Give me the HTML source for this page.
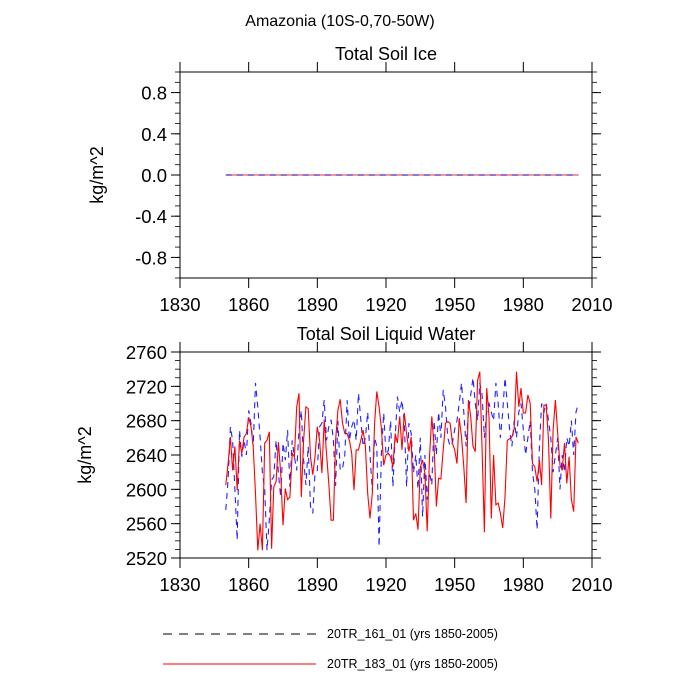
<!DOCTYPE html>
<html><head><meta charset="utf-8"><style>
body{margin:0;background:#fff;}
svg{display:block;font-family:"Liberation Sans",sans-serif;}
</style></head><body>
<svg id="chart" width="700" height="700" xmlns="http://www.w3.org/2000/svg">
<text x="340" y="26" font-size="16" text-anchor="middle">Amazonia (10S-0,70-50W)</text>
<g id="top"></g>
<g id="bot"></g>
<g>
<line x1="163" y1="634" x2="316" y2="634" stroke="#000" stroke-width="0.9" stroke-dasharray="9,7"/>
<text x="327" y="638" font-size="12.5">20TR_161_01 (yrs 1850-2005)</text>
<line x1="163" y1="664" x2="316" y2="664" stroke="#f00" stroke-width="0.9"/>
<text x="327" y="668" font-size="12.5">20TR_183_01 (yrs 1850-2005)</text>
</g>
</svg>
<script>
const years = [];
for (let y = 1850; y <= 2004; y++) years.push(y);
const blueVals = [2576,2611,2673,2657,2600,2541,2669,2638,2657,2640,
2692,2677,2650,2724,2696,2661,2619,2600,2529,2564,
2611,2615,2657,2619,2591,2654,2634,2669,2603,2657,
2638,2622,2669,2692,2634,2605,2650,2580,2572,2619,
2622,2673,2677,2704,2657,2673,2681,2657,2604,2680,
2622,2624,2640,2704,2657,2673,2681,2657,2712,2681,
2650,2660,2690,2640,2599,2660,2650,2533,2642,2689,
2640,2645,2680,2603,2660,2708,2690,2704,2677,2603,
2677,2665,2619,2640,2600,2660,2568,2640,2588,2620,
2605,2680,2640,2690,2660,2716,2696,2660,2650,2654,
2670,2680,2700,2724,2690,2650,2690,2710,2730,2700,
2680,2724,2710,2660,2690,2700,2690,2680,2724,2700,
2660,2690,2730,2700,2670,2650,2680,2660,2690,2700,
2670,2640,2660,2680,2620,2600,2553,2650,2700,2690,
2700,2680,2660,2620,2640,2660,2600,2640,2620,2660,
2650,2680,2640,2690,2700];
const redVals = [2605,2630,2661,2622,2650,2599,2657,2642,2661,2665,
2684,2673,2650,2595,2529,2560,2529,2654,2657,2667,
2531,2603,2609,2655,2619,2558,2601,2588,2591,2642,
2638,2696,2712,2591,2657,2696,2694,2638,2617,2638,
2673,2657,2619,2681,2642,2607,2564,2564,2657,2692,
2705,2677,2665,2665,2657,2642,2599,2646,2646,2657,
2669,2650,2595,2566,2595,2677,2714,2696,2671,2628,
2640,2642,2638,2626,2665,2654,2685,2646,2689,2665,
2644,2661,2564,2572,2553,2626,2634,2619,2551,2638,
2685,2650,2580,2613,2612,2646,2677,2679,2677,2654,
2646,2630,2683,2661,2626,2584,2704,2685,2650,2644,
2727,2737,2646,2550,2718,2685,2566,2640,2582,2584,
2572,2555,2591,2657,2659,2661,2671,2737,2696,2718,
2689,2689,2710,2700,2630,2626,2609,2634,2605,2698,
2698,2657,2566,2669,2704,2665,2628,2622,2654,2607,
2638,2588,2574,2661,2654];
const iceBlue = years.map(() => 0);
const iceRed = years.map(() => 0);
const xTicks = [1830,1860,1890,1920,1950,1980,2010];
const topYTicks = [-0.8,-0.4,0.0,0.4,0.8];
const botYTicks = [2520,2560,2600,2640,2680,2720,2760];

const NS = "http://www.w3.org/2000/svg";
function mk(parent, tag, attrs) {
  const e = document.createElementNS(NS, tag);
  for (const k in attrs) e.setAttribute(k, attrs[k]);
  parent.appendChild(e);
  return e;
}
function panel(g, top, bottom, ymin, ymax, yticks, minorStep, dec, title, series, prefix) {
  const L = 180, R = 592;
  const xs = v => L + (v - 1830) / 180 * (R - L);
  const ys = v => bottom - (v - ymin) / (ymax - ymin) * (bottom - top);
  const frame = mk(g, 'rect', {x: L, y: top, width: R - L, height: bottom - top, fill: 'none', stroke: '#000', 'stroke-width': 1});
  
  
  xTicks.forEach(t => {
    const x = xs(t);
    mk(g, 'line', {x1: x, y1: top, x2: x, y2: top - 10, stroke: '#000'});
    mk(g, 'line', {x1: x, y1: bottom, x2: x, y2: bottom + 10, stroke: '#000'});
    const tx = mk(g, 'text', {x: x, y: bottom + 33, 'font-size': 18.5, 'text-anchor': 'middle'});
    tx.textContent = t;
    
    
  });
  const nMin = Math.round((ymax - ymin) / minorStep);
  for (let i = 0; i <= nMin; i++) {
    const y = ys(ymin + i * minorStep);
    mk(g, 'line', {x1: L, y1: y, x2: L - 5, y2: y, stroke: '#000', 'stroke-width': 0.8});
    mk(g, 'line', {x1: R, y1: y, x2: R + 5, y2: y, stroke: '#000', 'stroke-width': 0.8});
  }
  yticks.forEach(t => {
    const y = ys(t);
    mk(g, 'line', {x1: L, y1: y, x2: L - 9, y2: y, stroke: '#000'});
    mk(g, 'line', {x1: R, y1: y, x2: R + 9, y2: y, stroke: '#000'});
    const tx = mk(g, 'text', {x: L - 13, y: y + 7, 'font-size': 18.5, 'text-anchor': 'end'});
    tx.textContent = t.toFixed(dec);
    
    
  });
  const tt = mk(g, 'text', {x: 386, y: top - 12, 'font-size': 18, 'text-anchor': 'middle'});
  tt.textContent = title;
  
  
  const yl = mk(g, 'text', {x: 0, y: 0, 'font-size': 18, 'text-anchor': 'middle', transform: `translate(${prefix === 'ice' ? 103 : 91},${(top + bottom) / 2}) rotate(-90)`});
  yl.textContent = 'kg/m^2';
  
  
  series.forEach(s => {
    const d = years.map((yr, i) => (i ? 'L' : 'M') + xs(yr).toFixed(1) + ',' + ys(s.vals[i]).toFixed(1)).join('');
    const p = mk(g, 'path', {d: d, fill: 'none', stroke: s.color, 'stroke-width': s.w});
    if (s.dash) p.setAttribute('stroke-dasharray', s.dash);
    
    
  });
}
panel(document.getElementById('top'), 72, 278, -1, 1, topYTicks, 0.1, 1, 'Total Soil Ice',
  [{vals: iceRed, color: '#f55', w: 1.2, name: 'series-183'},
   {vals: iceBlue, color: '#4040e0', w: 1.2, dash: '6,5', name: 'series-161'}], 'ice');
panel(document.getElementById('bot'), 352, 558, 2520, 2760, botYTicks, 10, 0, 'Total Soil Liquid Water',
  [{vals: blueVals, color: '#22f', w: 1.1, dash: '6,5', name: 'series-161'},
   {vals: redVals, color: '#f00', w: 1.1, name: 'series-183'}], 'liquid');
</script>
</body></html>
